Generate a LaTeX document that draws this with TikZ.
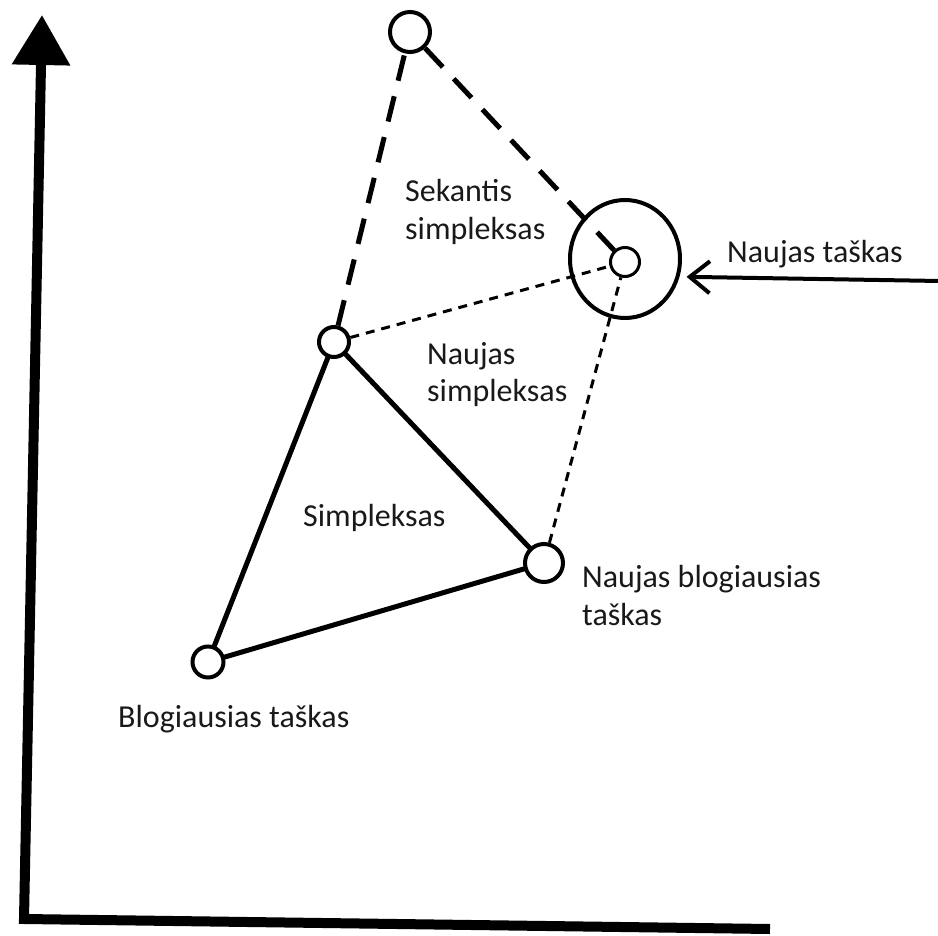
\documentclass[tikz,border=0pt]{standalone}
\usepackage{fontspec}
\setmainfont{Carlito}
\usetikzlibrary{arrows.meta,shapes.geometric}
\begin{document}
\begin{tikzpicture}[x=1pt,y=-1pt,
  vertex/.style={circle,draw,fill=white,line width=4pt,inner sep=0pt},
  edge/.style={line width=5pt,line cap=round},
  bigdash/.style={line width=5pt,dash pattern=on 26pt off 16pt},
  smalldash/.style={line width=3pt,dash pattern=on 9pt off 7pt},
  axis/.style={line width=10pt,line join=miter},
  ring/.style={ellipse,draw,line width=4pt,inner sep=0pt},
  pointer/.style={line width=4pt,line cap=round,-{Straight Barb[length=20pt,width=32pt,line width=4pt]}},
  lbl/.style={font=\fontsize{32}{38}\selectfont,inner sep=0pt,anchor=base west,align=left,text=black!90}
]
\useasboundingbox (0,0) rectangle (938,936);

% coordinate axes
\coordinate (origin) at (24,919);
\coordinate (ytip) at (42,15);
\coordinate (xend) at (770,929);
\draw[axis,-{Triangle[length=50pt,width=56pt]}] (xend) -- (origin) -- (ytip);

% simplex vertices
\node[vertex,minimum size=40pt] (top) at (410,32) {};
\node[vertex,minimum size=29pt,line width=3pt] (new) at (625,262) {};
\node[vertex,minimum size=30pt] (l) at (334,342) {};
\node[vertex,minimum size=38pt] (br) at (544,563) {};
\node[vertex,minimum size=31pt] (bl) at (208,662) {};

% current simplex
\draw[edge] (bl) -- (l);
\draw[edge] (l) -- (br);
\draw[edge] (br) -- (bl);

% next simplex
\draw[bigdash] (l) -- (top);
\draw[bigdash] (top) -- (new);

% new simplex
\draw[smalldash] (l) -- (new);
\draw[smalldash] (br) -- (new);

% highlighted new point
\node[ring,minimum width=110pt,minimum height=118pt] (mark) at (625,259) {};
\coordinate (tail) at (940,281);
\draw[pointer,shorten >=7pt] (tail) -- (mark.-18);

% labels (multi-line labels are placed by the baseline of their last line)
\node[lbl] (tnew) at (727,263) {Naujas taškas};
\node[lbl] (tnext) at (405,240) {Sekantis\\simpleksas};
\node[lbl] (tnewsimp) at (427,402) {Naujas\\simpleksas};
\node[lbl] (tsimp) at (303,526) {Simpleksas};
\node[lbl] (tnewworst) at (582,625) {Naujas blogiausias\\taškas};
\node[lbl] (tworst) at (118,727) {Blogiausias taškas};
\end{tikzpicture}
\end{document}
